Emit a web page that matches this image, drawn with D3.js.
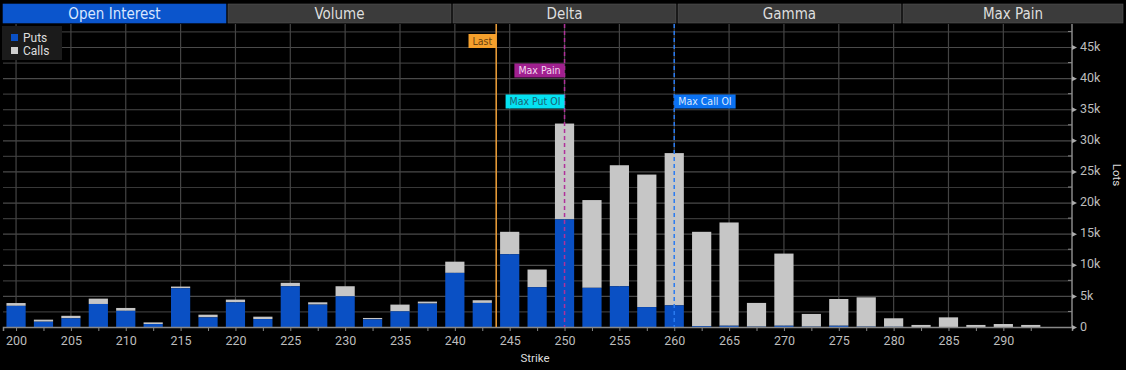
<!DOCTYPE html>
<html>
<head>
<meta charset="utf-8">
<script src="https://cdn.jsdelivr.net/npm/d3@7"></script>
<style>
  html, body { margin: 0; padding: 0; background: #000; }
  svg { display: block; }
  .tick text { font-family: Roboto, "DejaVu Sans", sans-serif; }
</style>
</head>
<body>
<svg id="chart" width="1126" height="370"></svg>
<script>
// strikes and open interest (lots)
const strikes = [200, 202.5, 205, 207.5, 210, 212.5, 215, 217.5, 220, 222.5,
  225, 227.5, 230, 232.5, 235, 237.5, 240, 242.5, 245, 247.5,
  250, 252.5, 255, 257.5, 260, 262.5, 265, 267.5, 270, 272.5,
  275, 277.5, 280, 282.5, 285, 287.5, 290, 292.5];
const puts = [3400, 850, 1400, 3700, 2600, 480, 6230, 1550, 3970, 1280,
  6550, 3600, 4940, 1230, 2520, 3760, 8700, 3870, 11700, 6400,
  17300, 6300, 6550, 3200, 3480, 150, 200, 50, 200, 50,
  200, 50, 30, 0, 0, 0, 0, 0];
const calls = [450, 330, 400, 860, 460, 260, 270, 430, 430, 380,
  550, 370, 1610, 220, 1080, 320, 1800, 430, 3600, 2840,
  15400, 14100, 19450, 21300, 24470, 15150, 16600, 3820, 11600, 2050,
  4300, 4720, 1370, 330, 1550, 330, 480, 330];
const strikeTicks = [200, 205, 210, 215, 220, 225, 230, 235, 240, 245,
  250, 255, 260, 265, 270, 275, 280, 285, 290];
const lotTicks = [0, 5000, 10000, 15000, 20000, 25000, 30000, 35000, 40000, 45000];
const lotTickLabels = ['0', '5k', '10k', '15k', '20k', '25k', '30k', '35k', '40k', '45k'];
const tabs = ['Open Interest', 'Volume', 'Delta', 'Gamma', 'Max Pain'];
const markerNames = ['Last', 'Max Pain', 'Max Put OI', 'Max Call OI'];
const markerStrikes = [243.77, 250, 250, 260];

const narrow = '"Liberation Sans Narrow", "DejaVu Sans Condensed", "Roboto", sans-serif';
const margin = { left: 3, right: 1072, top: 24, bottom: 327 };

const svg = d3.select('#chart');
svg.append('rect').attr('width', 1126).attr('height', 370).attr('fill', '#000');

const x = d3.scaleLinear().domain([198.81, 296.26]).range([margin.left, margin.right]);
const y = d3.scaleLinear().domain([0, 48700]).range([margin.bottom, margin.top]);
const barHalf = 0.875;

// tabs
const tabW = 225;
const tabG = svg.append('g');
tabs.forEach((t, i) => {
  const x0 = 3 + i * tabW;
  const w = i === tabs.length - 1 ? 1123 - x0 : tabW - 2;
  tabG.append('rect')
    .attr('x', x0).attr('y', 4).attr('width', w).attr('height', 19)
    .attr('fill', i === 0 ? '#0b55cc' : '#3b3b3b')
    .attr('stroke', i === 0 ? '#0b55cc' : '#555').attr('stroke-width', 0.6);
  tabG.append('text')
    .attr('x', x0 + w / 2).attr('y', 18.5)
    .attr('text-anchor', 'middle')
    .style('font-family', narrow).style('font-size', '15px')
    .attr('fill', i === 0 ? '#d8e6ff' : '#dedede')
    .text(t);
});

// grid
const grid = svg.append('g');
const gridLots = d3.range(2500, 48700, 2500);
grid.selectAll('.hline').data(gridLots).enter().append('line')
  .attr('x1', margin.left).attr('x2', margin.right)
  .attr('y1', (d) => y(d) + 0.5).attr('y2', (d) => y(d) + 0.5)
  .attr('stroke', (d) => (d % 5000 === 0 ? '#4a4a4a' : '#383838'))
  .attr('stroke-width', 1.2);
grid.selectAll('.vline').data(strikeTicks).enter().append('line')
  .attr('x1', (d) => x(d)).attr('x2', (d) => x(d))
  .attr('y1', margin.top).attr('y2', margin.bottom)
  .attr('stroke', '#444').attr('stroke-width', 1.2);

// bars
const rows = strikes.map((s, i) => ({ strike: s, puts: puts[i], calls: calls[i] }));
const bars = svg.append('g');
bars.selectAll('.call').data(rows).enter().append('rect')
  .attr('class', 'call')
  .attr('x', (d) => x(d.strike - barHalf))
  .attr('width', (d) => x(d.strike + barHalf) - x(d.strike - barHalf))
  .attr('y', (d) => y(d.puts + d.calls))
  .attr('height', (d) => y(d.puts) - y(d.puts + d.calls))
  .attr('fill', '#c6c6c6');
bars.selectAll('.put').data(rows).enter().append('rect')
  .attr('class', 'put')
  .attr('x', (d) => x(d.strike - barHalf))
  .attr('width', (d) => x(d.strike + barHalf) - x(d.strike - barHalf))
  .attr('y', (d) => y(d.puts))
  .attr('height', (d) => y(0) - y(d.puts))
  .attr('fill', '#0a50c4');

// x axis
const xAxis = svg.append('g')
  .attr('transform', `translate(0,${margin.bottom})`)
  .call(d3.axisBottom(x).tickValues(strikes).tickSize(4).tickFormat(''));
xAxis.select('.domain').attr('stroke', '#888').attr('stroke-width', 1.5);
xAxis.selectAll('.tick line').attr('stroke', '#888');
svg.append('g')
  .attr('transform', `translate(0,${margin.bottom})`)
  .call(d3.axisBottom(x).tickValues(strikeTicks).tickSize(0).tickPadding(9))
  .call((g) => g.select('.domain').remove())
  .selectAll('text')
  .attr('fill', '#bdbdbd').style('font-size', '12.5px');

// y axis on the right
const yAxis = svg.append('g')
  .attr('transform', `translate(${margin.right},0)`)
  .call(d3.axisRight(y).tickValues(lotTicks).tickSize(0).tickPadding(8)
    .tickFormat((d, i) => lotTickLabels[i]));
yAxis.select('.domain').attr('d', `M0,${margin.top}V${margin.bottom}`)
  .attr('stroke', '#888').attr('stroke-width', 1.5);
yAxis.selectAll('text').attr('fill', '#bdbdbd').style('font-size', '12.5px')
  .attr('dy', '0.25em');
yAxis.selectAll('.tick').append('path')
  .attr('d', 'M0,-2.5L5,0L0,2.5Z').attr('fill', '#aaa');
svg.append('g').selectAll('line')
  .data(d3.range(2500, 48700, 5000)).enter().append('line')
  .attr('x1', margin.right - 4).attr('x2', margin.right)
  .attr('y1', (d) => y(d)).attr('y2', (d) => y(d))
  .attr('stroke', '#888');

// axis titles
svg.append('text')
  .attr('x', 535).attr('y', 362).attr('text-anchor', 'middle')
  .style('font-family', 'Roboto, sans-serif').style('font-size', '11.5px')
  .attr('fill', '#ddd').text('Strike');
svg.append('text')
  .attr('transform', 'translate(1113,175) rotate(90)')
  .attr('text-anchor', 'middle')
  .style('font-family', 'Roboto, sans-serif').style('font-size', '11.5px')
  .attr('fill', '#ddd').text('Lots');

// markers
const markerStyle = {
  'Last': { line: '#f2a23a', dash: null, box: '#f5a02c', text: '#6a4210', y: 34, side: 'left' },
  'Max Pain': { line: '#b0309a', dash: '4,3', box: '#a0208f', text: '#f4d8f0', y: 63.5, side: 'left' },
  'Max Put OI': { line: null, dash: null, box: '#05e2f2', text: '#1b6575', y: 94.5, side: 'left' },
  'Max Call OI': { line: '#2a7bf0', dash: '4,3', box: '#0b72f2', text: '#d8e8ff', y: 94.5, side: 'right' },
};
const mk = svg.append('g');
markerNames.forEach((name, i) => {
  const st = markerStyle[name];
  const xm = x(markerStrikes[i]);
  if (st.line) {
    mk.append('line')
      .attr('x1', xm).attr('x2', xm)
      .attr('y1', margin.top).attr('y2', margin.bottom)
      .attr('stroke', st.line).attr('stroke-width', 1.5)
      .attr('stroke-dasharray', st.dash);
  }
  const lbl = mk.append('g');
  const box = lbl.append('rect').attr('fill', st.box);
  const txt = lbl.append('text')
    .style('font-family', narrow).style('font-size', '10.5px')
    .attr('fill', st.text).text(name);
  const tw = txt.node().getComputedTextLength();
  const bw = tw + 8;
  const bx = st.side === 'left' ? xm - bw : xm;
  box.attr('x', bx).attr('y', st.y).attr('width', bw).attr('height', 14);
  txt.attr('x', bx + bw / 2).attr('y', st.y + 10.5).attr('text-anchor', 'middle');
});

// legend
const legend = svg.append('g');
legend.append('rect').attr('x', 2).attr('y', 26).attr('width', 60).attr('height', 34)
  .attr('fill', '#1b1b1b');
[['Puts', '#0a50c4'], ['Calls', '#cfcfcf']].forEach((d, i) => {
  legend.append('rect').attr('x', 11).attr('y', 34 + i * 13).attr('width', 7).attr('height', 7)
    .attr('fill', d[1]);
  legend.append('text').attr('x', 23).attr('y', 41.5 + i * 13)
    .style('font-family', 'Roboto, sans-serif').style('font-size', '12px')
    .attr('fill', '#ddd').text(d[0]);
});
</script>
</body>
</html>
